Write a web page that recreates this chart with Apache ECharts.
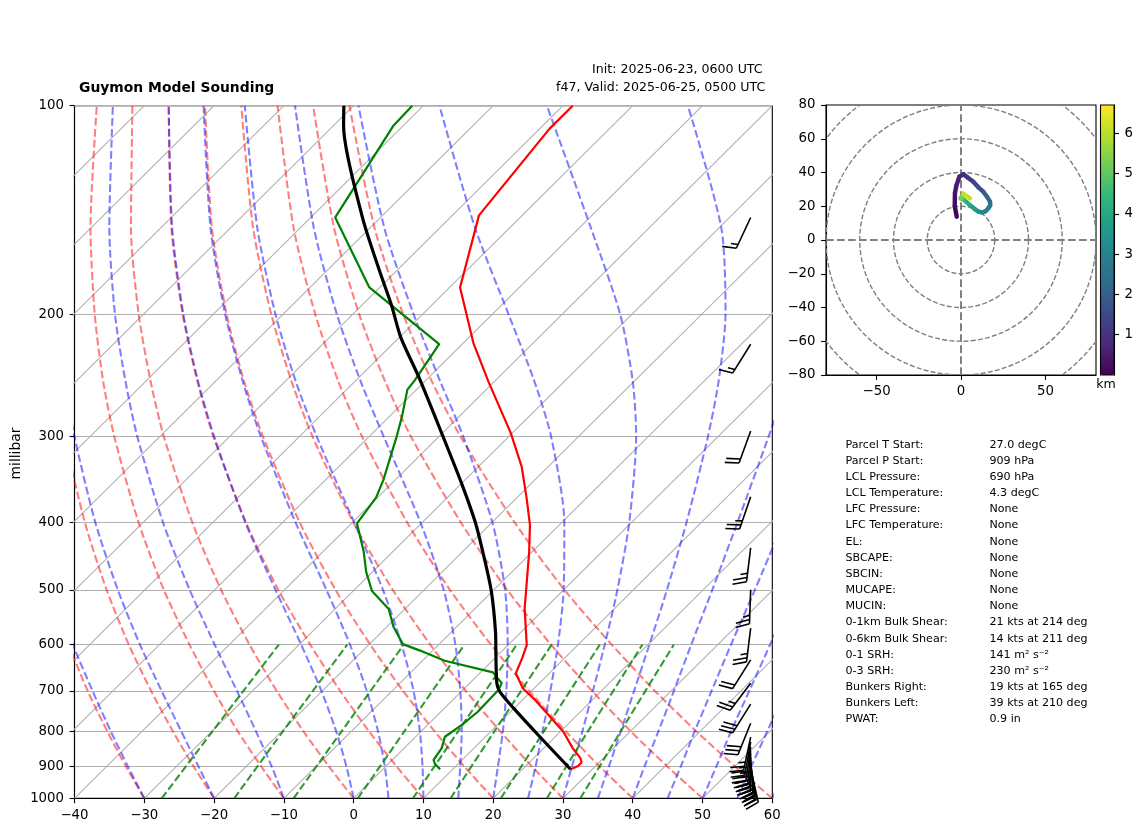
<!DOCTYPE html>
<html>
<head>
<meta charset="utf-8">
<title>Guymon Model Sounding</title>
<script src="https://cdn.jsdelivr.net/npm/echarts@6/dist/echarts.min.js"></script>
<style>html,body{margin:0;padding:0;background:#fff}#chart{width:1142px;height:832px}</style>
</head>
<body>
<div id="chart"></div>
<script>
// sounding profiles, hPa and degC
const tempP = [100,108,144,183,220,250,297,332,369,403,441,532,601,627,660,694,721,801,847,875,888,898,908];
const tempT = [-68.6,-68.6,-66.2,-58.5,-48.6,-40.9,-30.2,-23.8,-18.5,-14.2,-10.4,-2.9,2.7,3.9,5.2,8.4,11.8,20.4,24.2,26.7,27.5,27.5,26.9];
const parcelP = [100,107,145,173,194,216,246,299,351,401,453,503,575,621,682,702,741,815,908];
const parcelT = [-101.4,-98.5,-82.6,-72.5,-65.8,-59.8,-51.6,-39.7,-30.0,-22.2,-15.6,-10.1,-3.7,-0.3,3.9,5.6,9.9,17.8,26.9];
const dewP = [100,107,145,183,221,249,257,281,301,347,368,401,441,471,502,533,565,599,612,633,658,682,698,750,784,815,847,880,892,908];
const dewT = [-91.6,-91.4,-86.5,-71.5,-53.3,-51.6,-51.3,-48.2,-46.0,-41.7,-40.2,-39.2,-34.1,-30.9,-27.3,-22.3,-19.1,-15.2,-11.8,-6.8,1.8,4.6,5.1,5.3,4.9,4.2,5.4,5.9,6.7,8.2];

// background lines
const isotherms = [-140,-130,-120,-110,-100,-90,-80,-70,-60,-50,-40,-30,-20,-10,0,10,20,30,40,50,60];
const isoPressure = [1000,100];
const pressureTicks = [100,200,300,400,500,600,700,800,900,1000];
const adiabatP = [1000,900,800,700,600,500,400,300,250,200,150,100];
const dryLines = [
  [-30.0,-37.2,-45.0,-53.6,-63.0,-73.7,-86.0,-100.8,-109.5,-119.6,-131.7,-147.2],
  [-20.0,-27.5,-35.6,-44.5,-54.4,-65.5,-78.3,-93.7,-102.8,-113.3,-125.9,-142.0],
  [-10.0,-17.8,-26.3,-35.5,-45.7,-57.3,-70.6,-86.6,-96.1,-107.0,-120.1,-136.8],
  [0.0,-8.1,-16.9,-26.5,-37.1,-49.1,-62.9,-79.5,-89.3,-100.7,-114.3,-131.7],
  [10.0,1.6,-7.5,-17.4,-28.4,-40.9,-55.2,-72.4,-82.6,-94.4,-108.5,-126.5],
  [20.0,11.3,1.9,-8.4,-19.8,-32.7,-47.5,-65.3,-75.9,-88.1,-102.7,-121.3],
  [30.0,21.0,11.3,0.6,-11.2,-24.5,-39.8,-58.2,-69.1,-81.7,-96.8,-116.1],
  [40.0,30.7,20.7,9.7,-2.5,-16.3,-32.1,-51.1,-62.4,-75.4,-91.0,-110.9],
  [50.0,40.4,30.0,18.7,6.1,-8.1,-24.4,-44.1,-55.7,-69.1,-85.2,-105.8],
  [60.0,50.1,39.4,27.7,14.8,0.1,-16.7,-37.0,-49.0,-62.8,-79.4,-100.6]
];
const moistLines = [
  [-30.0,-36.9,-44.5,-52.9,-62.4,-73.0,-85.4,-100.2,-109.0,-119.1,-131.3,-146.8],
  [-20.0,-26.8,-34.4,-43.0,-52.8,-63.9,-76.8,-92.3,-101.5,-112.1,-124.8,-141.0],
  [-10.0,-16.3,-23.7,-32.2,-42.1,-53.6,-67.1,-83.3,-92.9,-104.1,-117.4,-134.5],
  [0.0,-5.6,-12.2,-20.1,-29.7,-41.3,-55.3,-72.3,-82.5,-94.3,-108.4,-126.5],
  [5.0,-0.1,-6.2,-13.6,-22.7,-34.0,-48.1,-65.6,-76.1,-88.3,-102.9,-121.5],
  [10.0,5.3,-0.2,-6.9,-15.3,-25.9,-39.7,-57.6,-68.5,-81.1,-96.2,-115.6],
  [15.0,10.7,5.8,-0.2,-7.6,-17.2,-30.2,-48.0,-59.2,-72.3,-88.1,-108.4],
  [20.0,16.1,11.7,6.4,-0.1,-8.4,-19.9,-36.6,-47.8,-61.3,-78.0,-99.3],
  [25.0,21.5,17.4,12.7,7.1,-0.0,-9.6,-24.0,-34.3,-47.7,-65.0,-87.7],
  [30.0,26.7,23.1,18.8,13.8,7.7,-0.3,-11.8,-20.2,-31.7,-48.4,-72.3],
  [35.0,32.0,28.6,24.7,20.2,14.8,7.9,-1.5,-7.9,-16.6,-29.7,-52.1],
  [40.0,37.1,34.0,30.4,26.2,21.3,15.2,7.2,2.0,-4.7,-14.2,-30.0],
  [45.0,42.3,39.2,35.8,31.9,27.4,21.8,14.7,10.1,4.5,-3.0,-14.2],
  [50.0,47.4,44.4,41.2,37.5,33.1,27.9,21.3,17.1,12.1,5.6,-3.6],
  [55.0,52.4,49.6,46.4,42.8,38.6,33.6,27.3,23.4,18.6,12.7,4.4],
  [60.0,57.5,54.7,51.6,48.0,43.9,39.0,32.9,29.1,24.6,18.9,11.1]
];
const mixingP = [1000,800,600];
const mixingLines = [
  [-27.5,-29.9,-32.9],
  [-17.1,-19.8,-23.1],
  [-8.6,-11.4,-15.0],
  [0.6,-2.4,-6.3],
  [8.5,5.3,1.2],
  [13.9,10.5,6.2],
  [21.1,17.6,13.1],
  [27.7,23.9,19.2],
  [32.5,28.6,23.7]
];

// wind barbs: hPa, knots, degrees
const barbP = [145,221,295,367,435,500,568,631,682,731,779,816,829,843,854,863,872,880,889,898,907];
const barbSpeed = [15,15,20,25,25,25,25,20,25,30,30,25,25,25,25,30,30,30,30,30,30];
const barbDir = [205,212,200,199,187,182,187,212,217,212,202,192,190,188,185,182,180,176,173,170,167];
const barbColumn = 56.9;

// hodograph
const hodoU = [-2.5,-3.7,-3.6,-2.8,-1,1.4,4,7.3,10,13.2,15.5,17.2,17.3,16.2,14.5,12.3,10,8.3,5,1.4,-0.2,1.4,5.3];
const hodoV = [13.8,20,27.7,32,37.5,38.9,37,34.5,31.5,28.6,25.5,22.7,20.5,18.8,17,16.4,17,18.2,21,24.1,24.7,27.3,24.7];
const hodoH = [0,0.2,0.35,0.5,0.65,0.8,1,1.2,1.5,1.8,2.05,2.3,2.5,2.7,2.9,3.1,3.3,3.5,3.95,4.4,5,5.6,6.6];
const ringRadii = [20,40,60,80,100];
const viridis = ['#440154','#482878','#3e4989','#31688e','#26828e','#1f9e89','#35b779','#6ece58','#b5de2b','#fde725'];

// parameter table
const panelLabels = ['Parcel T Start:','Parcel P Start:','LCL Pressure:','LCL Temperature:','LFC Pressure:','LFC Temperature:','EL:','SBCAPE:','SBCIN:','MUCAPE:','MUCIN:','0-1km Bulk Shear:','0-6km Bulk Shear:','0-1 SRH:','0-3 SRH:','Bunkers Right:','Bunkers Left:','PWAT:'];
const panelValues = ['27.0 degC','909 hPa','690 hPa','4.3 degC','None','None','None','None','None','None','None','21 kts at 214 deg','14 kts at 211 deg','141 m\u00b2 s\u207b\u00b2','230 m\u00b2 s\u207b\u00b2','19 kts at 165 deg','39 kts at 210 deg','0.9 in'];

const FONT = '"DejaVu Sans"';
const minus = v => String(v).replace('-', '\u2212');

// skew-T x position, 100 degC per decade of pressure
function skew(t, p) {
  return t + 100 * Math.log10(1000 / p);
}

function skewLine(levels, temps, style, smooth) {
  return {
    type: 'line', xAxisIndex: 0, yAxisIndex: 0, symbol: 'none', silent: true,
    smooth: smooth ? 0.25 : false,
    lineStyle: style,
    data: levels.map((p, i) => [skew(temps[i], p), p])
  };
}

function renderBarb(params, api) {
  const tip = api.coord([api.value(0), api.value(1)]);
  const speed = api.value(2);
  const d = api.value(3) * Math.PI / 180;
  const sx = Math.sin(d), sy = -Math.cos(d);
  const nx = Math.cos(d), ny = Math.sin(d);
  const L = 34, h = 0.4 * L, w = 0.25 * L, gap = 0.125 * L;
  const lines = [[tip, [tip[0] + sx * L, tip[1] + sy * L]]];
  let offset = L;
  let full = Math.floor(speed / 10);
  for (let i = 0; i < full; i++) {
    const bx = tip[0] + sx * offset, by = tip[1] + sy * offset;
    lines.push([[bx, by], [bx + nx * h + sx * w / 2, by + ny * h + sy * w / 2]]);
    offset -= gap;
  }
  if (speed % 10 >= 5) {
    const bx = tip[0] + sx * offset, by = tip[1] + sy * offset;
    lines.push([[bx, by], [bx + nx * h / 2 + sx * w / 4, by + ny * h / 2 + sy * w / 4]]);
  }
  return {
    type: 'group',
    children: lines.map(l => ({
      type: 'polyline',
      shape: { points: l },
      style: { stroke: '#000', lineWidth: 1.6, fill: null }
    }))
  };
}

function renderRing(params, api) {
  const c = api.coord([0, 0]);
  const r = api.size([api.value(0), 0])[0];
  return {
    type: 'circle',
    shape: { cx: c[0], cy: c[1], r: r },
    style: { stroke: '#808080', fill: null, lineWidth: 1.4, lineDash: [5, 2.2] }
  };
}

function renderHodo(params, api) {
  const a = api.coord([api.value(0), api.value(1)]);
  const b = api.coord([api.value(2), api.value(3)]);
  return {
    type: 'line',
    shape: { x1: a[0], y1: a[1], x2: b[0], y2: b[1] },
    style: { stroke: api.visual('color'), lineWidth: 4.4, lineCap: 'round' }
  };
}

const series = [];
const grayStyle = { color: '#b0b0b0', width: 1.1 };
isotherms.forEach(t => series.push(skewLine(isoPressure, isoPressure.map(() => t), grayStyle)));
const dryStyle = { color: 'rgba(255,0,0,0.5)', width: 2.1, type: [7.7, 3.3] };
dryLines.forEach(l => series.push(skewLine(adiabatP, l, dryStyle, true)));
const moistStyle = { color: 'rgba(0,0,255,0.5)', width: 2.1, type: [7.7, 3.3] };
moistLines.forEach(l => series.push(skewLine(adiabatP, l, moistStyle, true)));
const mixStyle = { color: 'rgba(0,128,0,0.8)', width: 2.1, type: [7.7, 3.3] };
mixingLines.forEach(l => series.push(skewLine(mixingP, l, mixStyle, true)));
series.push(skewLine(tempP, tempT, { color: '#ff0000', width: 2.2 }));
series.push(skewLine(dewP, dewT, { color: '#008000', width: 2.2 }));
series.push(skewLine(parcelP, parcelT, { color: '#000', width: 3.2 }, true));

series.push({
  type: 'custom', xAxisIndex: 0, yAxisIndex: 0, silent: true, clip: false, z: 5,
  renderItem: renderBarb,
  data: barbP.map((p, i) => [barbColumn, p, barbSpeed[i], barbDir[i]])
});

// hodograph panel
series.push({
  type: 'custom', xAxisIndex: 1, yAxisIndex: 1, silent: true, clip: true,
  renderItem: renderRing,
  data: ringRadii.map(r => [r, 0])
});
const hodoAxisStyle = { color: '#808080', width: 2, type: [7.7, 3.3] };
series.push({ type: 'line', xAxisIndex: 1, yAxisIndex: 1, symbol: 'none', silent: true, lineStyle: hodoAxisStyle, data: [[-80, 0], [80, 0]] });
series.push({ type: 'line', xAxisIndex: 1, yAxisIndex: 1, symbol: 'none', silent: true, lineStyle: hodoAxisStyle, data: [[0, -80], [0, 80]] });
series.push({
  type: 'custom', xAxisIndex: 1, yAxisIndex: 1, silent: true, clip: true, z: 4,
  renderItem: renderHodo,
  encode: { x: 0, y: 1 },
  data: hodoU.slice(1).map((u, i) => [hodoU[i], hodoV[i], u, hodoV[i + 1], (hodoH[i] + hodoH[i + 1]) / 2])
});
const hodoSeriesIndex = series.length - 1;

const tickLabel = { color: '#000', fontFamily: FONT, fontSize: 13.3, margin: 10.5 };
const sideLabel = Object.assign({}, tickLabel, { padding: [2, 0, 0, 0] });
const blackLine = { onZero: false, lineStyle: { color: '#000', width: 1.1 } };
const blackTick = { show: true, length: 4.9, lineStyle: { color: '#000', width: 1.1 } };

const graphics = [];
panelLabels.forEach((txt, i) => {
  const y = 444.8 + i * 16.16;
  graphics.push({ type: 'text', style: { text: txt, x: 845.5, y: y, font: '11.1px ' + FONT, fill: '#000', textVerticalAlign: 'middle' } });
  graphics.push({ type: 'text', style: { text: panelValues[i], x: 989.5, y: y, font: '11.1px ' + FONT, fill: '#000', textVerticalAlign: 'middle' } });
});
graphics.push({ type: 'text', style: { text: 'Guymon Model Sounding', x: 79, y: 88, font: 'bold 13.9px ' + FONT, fill: '#000', textVerticalAlign: 'middle' } });
graphics.push({ type: 'text', style: { text: 'Init: 2025-06-23, 0600 UTC', x: 592, y: 70, font: '12.6px ' + FONT, fill: '#000', textVerticalAlign: 'middle' } });
graphics.push({ type: 'text', style: { text: 'f47, Valid: 2025-06-25, 0500 UTC', x: 556, y: 88, font: '12.6px ' + FONT, fill: '#000', textVerticalAlign: 'middle' } });
graphics.push({ type: 'text', style: { text: 'km', x: 1096.3, y: 385, font: '12.6px ' + FONT, fill: '#000', textVerticalAlign: 'middle' } });
graphics.push({ type: 'text', rotation: Math.PI / 2, x: 16, y: 453.5, style: { text: 'millibar', font: '13.9px ' + FONT, fill: '#000', textAlign: 'center', textVerticalAlign: 'middle' } });

const chart = echarts.init(document.getElementById('chart'));
chart.setOption({
  animation: false,
  backgroundColor: '#fff',
  textStyle: { fontFamily: FONT },
  grid: [
    { left: 74.5, top: 105.7, width: 697.8, height: 692.6, show: true, borderColor: '#000', borderWidth: 1.1, containLabel: false },
    { left: 826, top: 105, width: 270, height: 270, show: true, borderColor: '#000', borderWidth: 1.1 },
    { left: 1100.5, top: 105, width: 13.6, height: 270, show: true, borderColor: '#000', borderWidth: 1.1, z: 10 }
  ],
  xAxis: [
    { gridIndex: 0, type: 'value', position: 'bottom', min: -40, max: 60, interval: 10, splitLine: { show: false }, axisLine: blackLine, axisTick: blackTick,
      axisLabel: Object.assign({}, tickLabel, { formatter: minus, showMinLabel: true, showMaxLabel: true }) },
    { gridIndex: 1, type: 'value', position: 'bottom', min: -80, max: 80, splitLine: { show: false }, axisLine: blackLine,
      axisTick: Object.assign({}, blackTick, { customValues: [-50, 0, 50] }),
      axisLabel: Object.assign({}, tickLabel, { customValues: [-50, 0, 50], formatter: minus }) },
    { gridIndex: 2, type: 'value', show: false, min: 0, max: 1 }
  ],
  yAxis: [
    { gridIndex: 0, type: 'log', logBase: 10, min: 100, max: 1000, inverse: true, position: 'left',
      axisLine: blackLine,
      axisTick: Object.assign({}, blackTick, { customValues: pressureTicks }),
      minorTick: { show: false }, minorSplitLine: { show: false },
      splitLine: { show: true, lineStyle: { color: '#b0b0b0', width: 1.1 } },
      axisLabel: Object.assign({}, sideLabel, { customValues: pressureTicks, formatter: v => String(Math.round(v)) }) },
    { gridIndex: 1, type: 'value', position: 'left', min: -80, max: 80, interval: 20, splitLine: { show: false }, axisLine: blackLine, axisTick: blackTick,
      axisLabel: Object.assign({}, sideLabel, { formatter: minus, showMinLabel: true, showMaxLabel: true }) },
    { gridIndex: 2, type: 'value', position: 'right', min: 0, max: 6.7, splitLine: { show: false }, axisLine: blackLine,
      axisTick: Object.assign({}, blackTick, { customValues: [1, 2, 3, 4, 5, 6] }),
      axisLabel: Object.assign({}, sideLabel, { customValues: [1, 2, 3, 4, 5, 6] }) }
  ],
  visualMap: {
    type: 'continuous', min: 0, max: 6.7, seriesIndex: hodoSeriesIndex, dimension: 4,
    inRange: { color: viridis }, calculable: false, realtime: false, hoverLink: false,
    orient: 'vertical', left: 1100.5, top: 105, itemWidth: 13.6, itemHeight: 270, padding: 0,
    showLabel: false, text: null, z: 1
  },
  graphic: graphics,
  series: series
});
</script>
</body>
</html>
